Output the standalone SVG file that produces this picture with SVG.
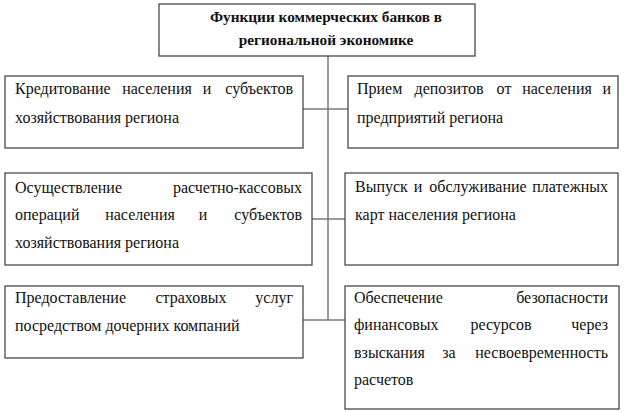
<svg xmlns="http://www.w3.org/2000/svg" width="624" height="412" viewBox="0 0 624 412">
<style>
.box{fill:#fff;stroke:#3a3a3a;stroke-width:1.2}
.t{font-family:'Liberation Serif','Times New Roman',serif;font-size:16px;fill:#111}
.h{font-family:'Liberation Serif','Times New Roman',serif;font-size:15.3px;font-weight:bold;fill:#111;text-anchor:middle}
.e{text-anchor:end}
.m{text-anchor:middle}
.c{stroke:#7a7a7a;stroke-width:1.5;fill:none}
</style>
<rect width="624" height="412" fill="#fff"/>
<g id="connectors">
<path class="c" d="M328,56V320"/>
<path class="c" d="M303,109H348"/>
<path class="c" d="M312,219H345"/>
<path class="c" d="M303,320H345"/>
</g>
<g id="title">
<rect class="box" x="159" y="4" width="316" height="52"/>
<text class="h" x="326" y="22">Функции коммерческих банков в</text>
<text class="h" x="326" y="45">региональной экономике</text>
</g>
<g id="n1">
<rect class="box" x="5" y="76" width="298" height="72"/>
<text class="t" x="15" y="94">Кредитование</text>
<text class="t m" x="157" y="94">населения</text>
<text class="t m" x="207" y="94">и</text>
<text class="t e" x="293" y="94">субъектов</text>
<text class="t" x="15" y="123">хозяйствования региона</text>
</g>
<g id="n2">
<rect class="box" x="348" y="76" width="270" height="72"/>
<text class="t" x="357" y="94">Прием</text>
<text class="t m" x="449" y="94">депозитов</text>
<text class="t m" x="504" y="94">от</text>
<text class="t m" x="557" y="94">населения</text>
<text class="t e" x="611" y="94">и</text>
<text class="t" x="357" y="123">предприятий региона</text>
</g>
<g id="n3">
<rect class="box" x="5" y="173" width="307" height="92"/>
<text class="t" x="15" y="193">Осуществление</text>
<text class="t e" x="302" y="193">расчетно-кассовых</text>
<text class="t" x="15" y="220">операций</text>
<text class="t m" x="140" y="220">населения</text>
<text class="t m" x="203" y="220">и</text>
<text class="t e" x="302" y="220">субъектов</text>
<text class="t" x="15" y="248">хозяйствования региона</text>
</g>
<g id="n4">
<rect class="box" x="345" y="173" width="273" height="92"/>
<text class="t" x="355" y="192">Выпуск</text>
<text class="t m" x="418" y="192">и</text>
<text class="t m" x="478" y="192">обслуживание</text>
<text class="t e" x="608" y="192">платежных</text>
<text class="t" x="355" y="220">карт населения региона</text>
</g>
<g id="n5">
<rect class="box" x="5" y="286" width="298" height="72"/>
<text class="t" x="15" y="303">Предоставление</text>
<text class="t m" x="191" y="303">страховых</text>
<text class="t e" x="293" y="303">услуг</text>
<text class="t" x="15" y="331">посредством дочерних компаний</text>
</g>
<g id="n6">
<rect class="box" x="345" y="286" width="274" height="123"/>
<text class="t" x="354" y="303">Обеспечение</text>
<text class="t e" x="608" y="303">безопасности</text>
<text class="t" x="354" y="330">финансовых</text>
<text class="t m" x="501" y="330">ресурсов</text>
<text class="t e" x="608" y="330">через</text>
<text class="t" x="354" y="358">взыскания</text>
<text class="t m" x="449" y="358">за</text>
<text class="t e" x="608" y="358">несвоевременность</text>
<text class="t" x="354" y="385">расчетов</text>
</g>
</svg>
